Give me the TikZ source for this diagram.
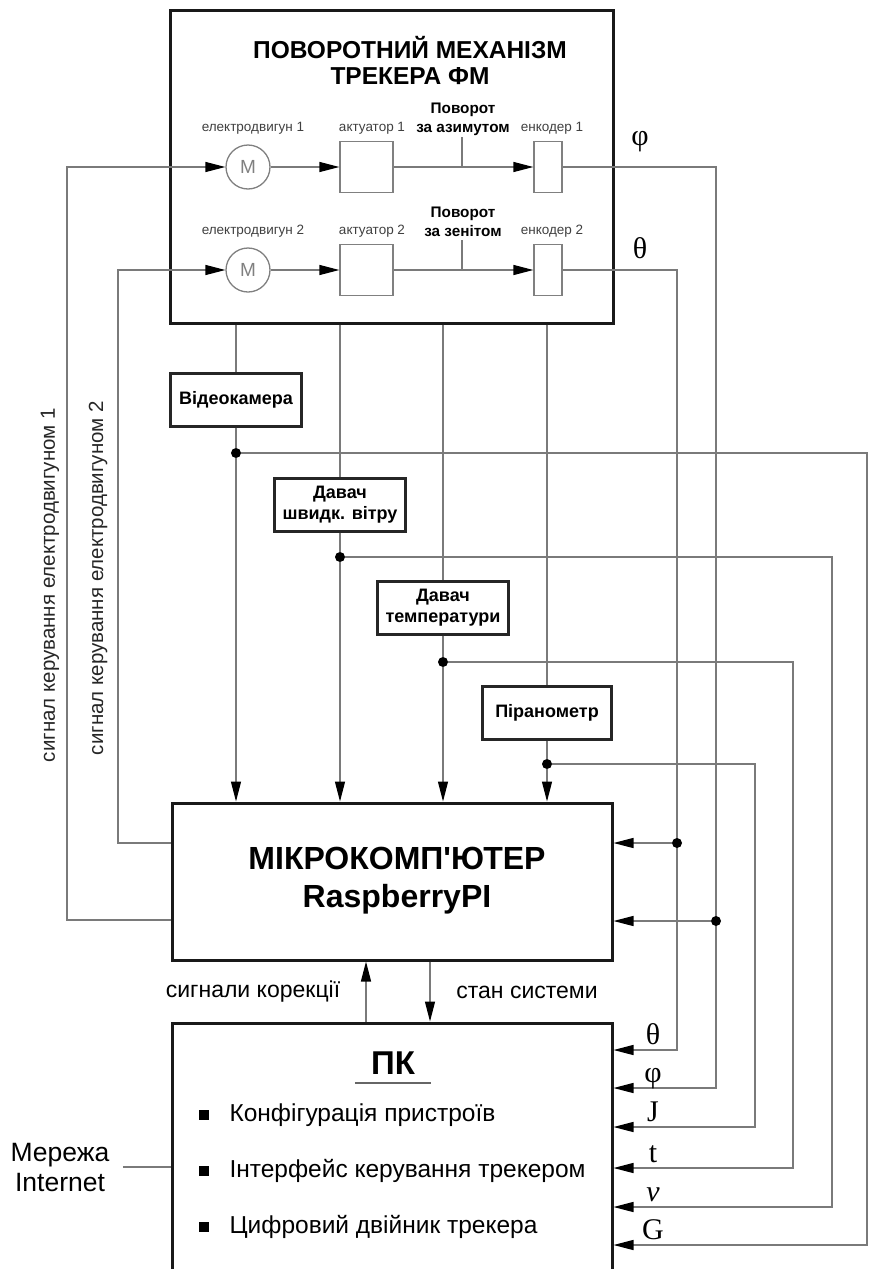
\documentclass[tikz,border=0pt]{standalone}
\usepackage{fontspec}
\setmainfont{Liberation Sans}
\newfontfamily\grk{Liberation Serif}
\usetikzlibrary{arrows.meta}

\begin{document}
\begin{tikzpicture}[x=1pt, y=-1pt, >={Triangle[length=20pt, width=10pt, color=black]},
	ln/.style={draw=black!52, line width=1.3pt},
	big/.style={draw=black!90, line width=3pt, inner sep=0pt},
	part/.style={draw=black!50, line width=1.3pt, inner sep=0pt},
	sens/.style={draw=black!85, line width=2.2pt, fill=white, minimum width=131pt, minimum height=53pt, align=center, inner sep=0pt, font=\fontsize{18}{21}\selectfont\bfseries},
	small/.style={text=black!75, font=\fontsize{13.5}{16}\selectfont},
	turn/.style={align=center, font=\fontsize{15.3}{19}\selectfont\bfseries},
	sym/.style={inner sep=0pt, font=\grk\fontsize{30}{30}\selectfont},
	lbl/.style={font=\fontsize{23}{27}\selectfont},
	side/.style={text=black!85, font=\fontsize{20.5}{24}\selectfont},
	dot/.style={circle, fill=black, inner sep=0pt, minimum size=10pt}]
	\useasboundingbox (0,0) rectangle (869,1269);
	\node[big, minimum width=443pt, minimum height=313pt] (fm) at (391.5,166.5) {};
	\node[big, minimum width=440pt, minimum height=157pt] (mc) at (392,881.5) {};
	\node[big, minimum width=440pt, minimum height=280pt] (pc) at (392,1163) {};
	\node[align=center, font=\fontsize{24.5}{26}\selectfont\bfseries] (ttl) at (410,60) {ПОВОРОТНИЙ МЕХАНІЗМ\\ТРЕКЕРА ФМ};
	\foreach \i/\y/\w in {1/167/азимутом, 2/270/зенітом} {
		\node[part, circle, minimum size=44pt, text=black!50, font=\fontsize{19}{19}\selectfont] (m\i) at (248,\y) {M};
		\node[part, minimum width=53pt, minimum height=51pt] (a\i) at (366.5,\y) {};
		\node[part, minimum width=28pt, minimum height=51pt] (e\i) at (548,\y) {};
		\node[small] (lm\i) at (253,\y-39) {електродвигун \i};
		\node[small] (la\i) at (372,\y-39) {актуатор \i};
		\node[small] (le\i) at (552,\y-39) {енкодер \i};
		\node[turn] (tr\i) at (463,\y-48) {Поворот\\за \w};
		\coordinate (tk\i) at (462,\y-30);
		\draw[ln,->] (m\i) -- (a\i);
		\draw[ln,->] (a\i) -- (e\i);
		\draw[ln] (tk\i) -- (tk\i |- a\i.east);
	}
	\node[sym] (phi) at (640,142) {φ};
	\node[sym] (tht) at (640,248) {θ};
	\node[sens] (cam) at (236,400) {Відеокамера};
	\node[sens] (wind) at (340,505) {Давач\\швидк. вітру};
	\node[sens] (temp) at (443,608) {Давач\\температури};
	\node[sens, minimum width=129pt] (pyr) at (547,713) {Піранометр};
	\node[dot] (dcam) at (236,453) {};
	\node[dot] (dwind) at (340,557) {};
	\node[dot] (dtmp) at (443,662) {};
	\node[dot] (dpyr) at (547,764) {};
	\foreach \n/\d in {cam/dcam, wind/dwind, temp/dtmp, pyr/dpyr} {
		\draw[ln] (fm.south -| \n) -- (\n);
		\draw[ln] (\n) -- (\d);
		\draw[ln,->] (\d) -- (mc.north -| \n);
	}
	\foreach \s/\x/\y/\l in {e2.east/677/1050/θ, e1.east/716/1088/φ, dpyr.east/755/1127/J, dtmp.east/793/1168/t, dwind.east/832/1207/{\itshape ν}, dcam.east/867/1245/G} {
		\draw[ln,->] (\s) -| (\x,\y) -- (pc.east |- 0,\y);
		\node[sym, anchor=base] (g\x) at (653,\y-6) {\l};
	}
	\node[dot] (jth) at (677,843) {};
	\node[dot] (jph) at (716,921) {};
	\draw[ln,->] (jth) -- (mc.east |- jth);
	\draw[ln,->] (jph) -- (mc.east |- jph);
	\draw[ln,->] (mc.west |- 0,920) -| (67,167) -- (m1);
	\draw[ln,->] (mc.west |- 0,843) -| (118,270) -- (m2);
	\node[side, rotate=90] (sg1) at (50,585) {сигнал керування електродвигуном 1};
	\node[side, rotate=90] (sg2) at (98,578) {сигнал керування електродвигуном 2};
	\node[align=center, font=\fontsize{32}{38}\selectfont\bfseries] (mct) at (397,881) {МІКРОКОМП\textquotesingle ЮТЕР\\RaspberryPI};
	\coordinate (up) at (366,0);
	\coordinate (dn) at (430,0);
	\draw[ln,->] (pc.north -| up) -- (mc.south -| up);
	\draw[ln,->] (mc.south -| dn) -- (pc.north -| dn);
	\node[lbl] (kor) at (253,992) {сигнали корекції};
	\node[lbl] (st) at (527,992) {стан системи};
	\node[inner xsep=16pt, inner ysep=8pt, font=\fontsize{33}{33}\selectfont\bfseries] (pk) at (393,1063) {ПК};
	\draw[draw=black!60, line width=2pt] (pk.south west) -- (pk.south east);
	\foreach \t [count=\k] in {Конфігурація пристроїв, Інтерфейс керування трекером, Цифровий двійник трекера} {
		\node[fill=black, minimum size=10.5pt, inner sep=0pt] (b\k) at (204,1059+56*\k) {};
		\node[anchor=west, font=\fontsize{24.5}{28}\selectfont] (bt\k) at (226,1059+56*\k) {\t};
	}
	\node[align=center, font=\fontsize{26.5}{30}\selectfont] (net) at (60,1167) {Мережа\\Internet};
	\draw[ln] ([xshift=10pt]net.east) -- (pc.west |- net);
\end{tikzpicture}
\end{document}
